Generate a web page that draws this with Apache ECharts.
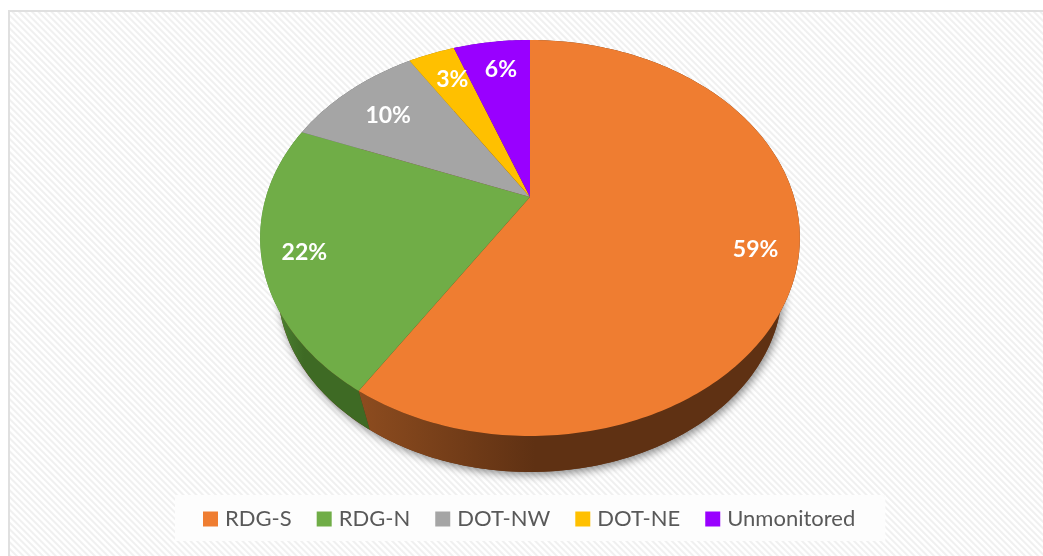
<!DOCTYPE html>
<html>
<head>
<meta charset="utf-8">
<script src="https://cdn.jsdelivr.net/npm/echarts@6/dist/echarts.min.js"></script>
<style>
  html, body { margin: 0; padding: 0; background: #fff; overflow: hidden; }
  #panel {
    position: absolute; left: 8px; top: 10px; width: 1100px; height: 600px;
    border: 2px solid #e0e0e0;
    background: repeating-linear-gradient(45deg, #fff 0, #fff 1.5px, #f0f0f0 2.5px, #f0f0f0 3.5px, #fff 4.6px);
  }
  #chart { position: absolute; left: 0; top: 0; width: 1043px; height: 556px; filter: blur(0.5px); }
</style>
</head>
<body>
<div id="panel"></div>
<div id="chart"></div>
<script>
const categories = ['RDG-S', 'RDG-N', 'DOT-NW', 'DOT-NE', 'Unmonitored'];
const values = [59, 22, 10, 3.4, 5.6];
const colors = ['#ef7d31', '#70ad47', '#a5a5a5', '#ffc000', '#9900ff'];

// wall colours, left to right
const wallColors = [
  ['#8d4c1f', '#5f3113'],
  ['#56903a', '#3e6a24'],
  ['#636363', '#636363'],
  ['#997300', '#997300'],
  ['#5c0099', '#5c0099']
];

// tilted disc, the centre of the pie is not the centre of the ellipse
const cx = 530;
const cy = 197;
const radiusX = 264;
const radiusY = 189.5;
const tilt = 0.207;
const bottomScale = 0.935;
const bottomCy = 248.5;

// small pixel nudges for the percent labels
const labelNudge = [[-1, 5], [0, 3], [2, 4], [2, -2], [2, -2]];

const total = values.reduce((a, b) => a + b, 0);

const project = (theta, r, scale, centerY) => {
  const w = 1 + tilt * r * Math.cos(theta);
  return [
    cx + scale * radiusX * r * Math.sin(theta) / w,
    centerY - scale * radiusY * r * Math.cos(theta) / w
  ];
};

const arcPoints = (from, to, scale, centerY) => {
  const steps = Math.max(6, Math.ceil((to - from) * 60));
  const pts = [];
  for (let i = 0; i <= steps; i++) {
    pts.push(project(from + (to - from) * i / steps, 1, scale, centerY));
  }
  return pts;
};

const sliceAngles = (index) => {
  const before = values.slice(0, index).reduce((a, b) => a + b, 0);
  return [before / total * Math.PI * 2, (before + values[index]) / total * Math.PI * 2];
};

const renderSlice = (params) => {
  const index = params.seriesIndex - 1;
  const [from, to] = sliceAngles(index);
  const mid = (from + to) / 2;
  const labelPos = project(mid, values[index] >= 20 ? 0.85 : 0.78, 1, cy);
  const top = arcPoints(from, to, 1, cy);
  const bottom = arcPoints(from, to, bottomScale, bottomCy).reverse();
  return {
    type: 'group',
    children: [
      {
        type: 'polygon',
        z2: 1,
        shape: { points: top.concat(bottom) },
        style: {
          fill: new echarts.graphic.LinearGradient(0, 0, 1, 0, [
            { offset: 0, color: wallColors[index][0] },
            { offset: 0.4, color: wallColors[index][1] },
            { offset: 1, color: wallColors[index][1] }
          ])
        }
      },
      {
        type: 'polygon',
        z2: 2,
        shape: { points: [[cx, cy]].concat(top) },
        style: { fill: colors[index] }
      },
      {
        type: 'text',
        z2: 3,
        style: {
          x: labelPos[0] + labelNudge[index][0],
          y: labelPos[1] + labelNudge[index][1],
          text: Math.round(values[index]) + '%',
          fill: '#fff',
          font: 'bold 23px Lato',
          align: 'center',
          verticalAlign: 'middle'
        }
      }
    ]
  };
};

// soft shadow under the whole pie
const renderShadow = () => ({
  type: 'polygon',
  z2: 0,
  shape: { points: arcPoints(0, Math.PI * 2, bottomScale, bottomCy) },
  style: {
    fill: '#5f3113',
    shadowBlur: 9,
    shadowOffsetX: 2,
    shadowOffsetY: 3,
    shadowColor: 'rgba(0, 0, 0, 0.45)'
  }
});

const getOptions = () => {
  return {
    animation: false,
    backgroundColor: 'transparent',
    legend: {
      data: categories,
      left: 175,
      top: 495,
      icon: 'rect',
      itemWidth: 15,
      itemHeight: 15,
      itemGap: 25,
      padding: [13, 30, 11, 28],
      backgroundColor: '#fdfdfd',
      selectedMode: false,
      textStyle: { fontFamily: 'Lato', fontSize: 22, color: '#595959', padding: [0, 0, 0, 2] }
    },
    series: [
      { type: 'custom', name: 'shadow', coordinateSystem: 'none', silent: true, data: [0], renderItem: renderShadow }
    ].concat(categories.map((name, i) => ({
      type: 'custom',
      name: name,
      coordinateSystem: 'none',
      data: [values[i]],
      itemStyle: { color: colors[i] },
      renderItem: renderSlice
    })))
  };
};

const chart = echarts.init(document.getElementById('chart'));
chart.setOption(getOptions());
</script>
</body>
</html>
